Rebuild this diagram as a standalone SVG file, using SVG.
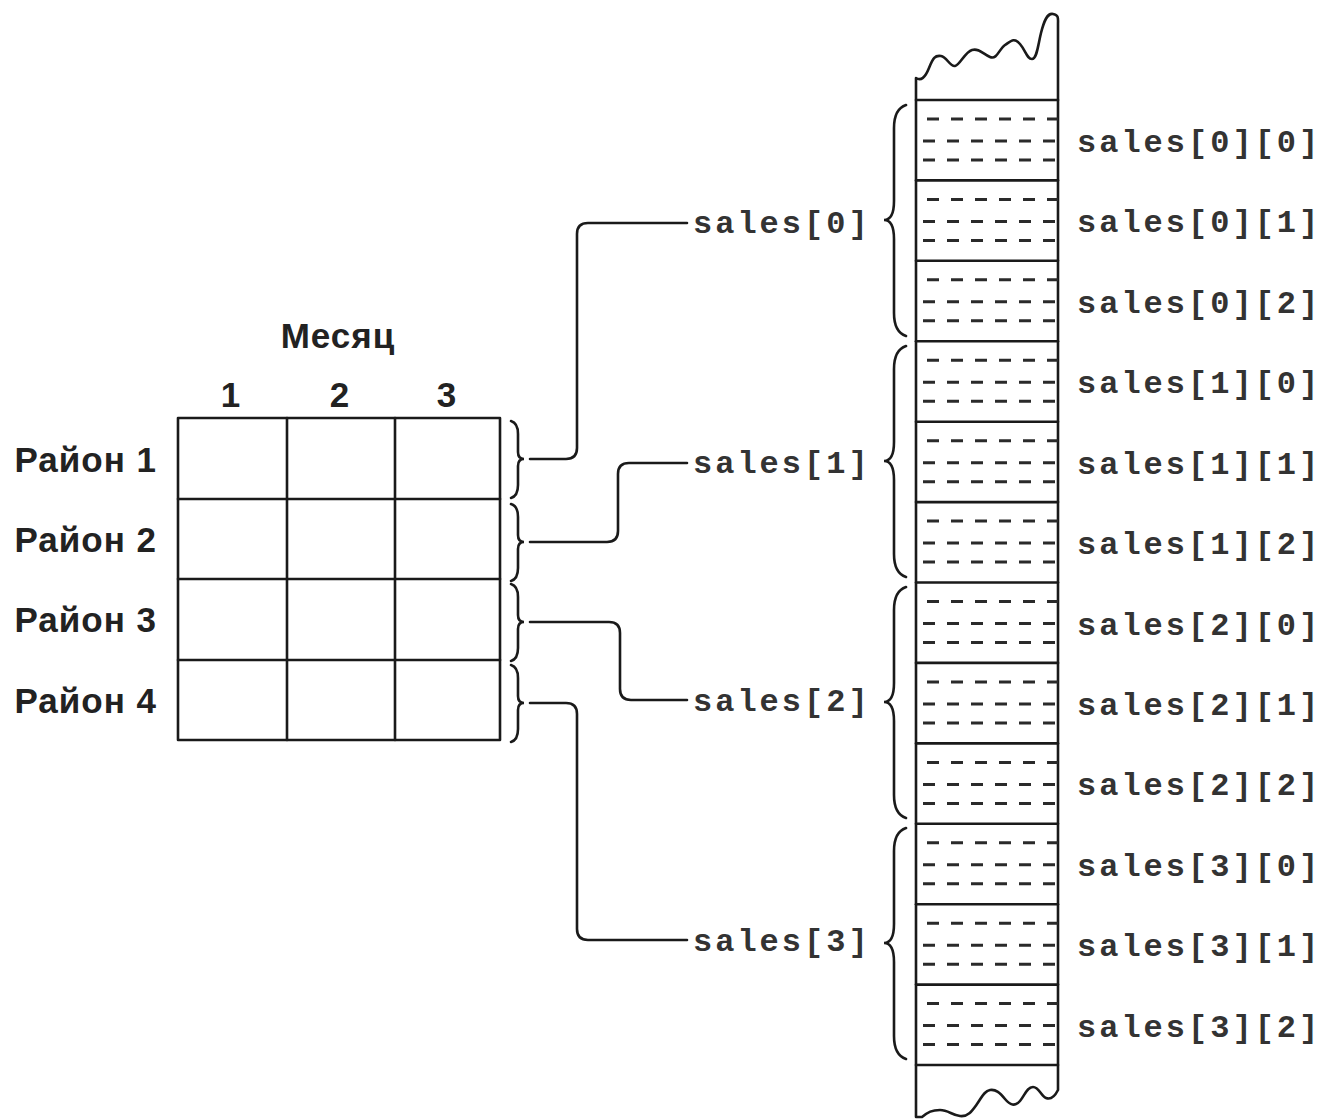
<svg xmlns="http://www.w3.org/2000/svg" width="1329" height="1120" viewBox="0 0 1329 1120">
<defs>
<style>
.ln{fill:none;stroke:#1a1a1a;stroke-width:2.6;stroke-linecap:round;stroke-linejoin:round}
.br{fill:none;stroke:#1a1a1a;stroke-width:2.6;stroke-linecap:round}
.ds{fill:none;stroke:#2a2a2a;stroke-width:3;stroke-dasharray:12 12}
.sans{font-family:"Liberation Sans",Arial,sans-serif;font-weight:bold;font-size:35px;letter-spacing:1px;fill:#222}
.mono{font-family:"Liberation Mono","Courier New",monospace;font-weight:bold;font-size:32px;letter-spacing:3px;fill:#333}
</style>
<g id="cellDashes">
<line class="ds" x1="927" y1="0" x2="1058" y2="0"/>
<line class="ds" x1="917" y1="22" x2="1058" y2="22" stroke-dashoffset="-6"/>
<line class="ds" x1="917" y1="41" x2="1058" y2="41" stroke-dashoffset="-6"/>
</g>
<path id="bigBrace" class="br" d="M906,5 Q894,9 894,28 V101 Q894,120 884,120 Q894,120 894,139 V213 Q894,232 906,236"/>
<path id="smallBrace" class="br" d="M511,2 Q518,4 518,15 V33 Q518,40 524,40 Q518,40 518,47 V66 Q518,77 511,79"/>
</defs>
<rect width="1329" height="1120" fill="#ffffff"/>

<g id="matrix">
<rect class="ln" x="178" y="418" width="322" height="322"/>
<line class="ln" x1="287" y1="418" x2="287" y2="740"/>
<line class="ln" x1="395" y1="418" x2="395" y2="740"/>
<line class="ln" x1="178" y1="499" x2="500" y2="499"/>
<line class="ln" x1="178" y1="579" x2="500" y2="579"/>
<line class="ln" x1="178" y1="660" x2="500" y2="660"/>
<text class="sans" x="338" y="348" text-anchor="middle">Месяц</text>
<text class="sans" x="231" y="407" text-anchor="middle">1</text>
<text class="sans" x="340" y="407" text-anchor="middle">2</text>
<text class="sans" x="447" y="407" text-anchor="middle">3</text>
</g>
<g id="row-labels">
<text class="sans" x="157" y="472" text-anchor="end">Район 1</text>
<text class="sans" x="157" y="552" text-anchor="end">Район 2</text>
<text class="sans" x="157" y="632" text-anchor="end">Район 3</text>
<text class="sans" x="157" y="713" text-anchor="end">Район 4</text>
</g>
<g id="row-braces">
<use href="#smallBrace" y="419"/>
<use href="#smallBrace" y="502"/>
<use href="#smallBrace" y="582"/>
<use href="#smallBrace" y="663"/>
</g>

<g id="connectors">
<path class="ln" d="M530,459 H566 Q577,459 577,448 V234 Q577,223 588,223 H687"/>
<path class="ln" d="M530,542 H607 Q618,542 618,531 V474 Q618,463 629,463 H687"/>
<path class="ln" d="M530,622 H609 Q620,622 620,633 V689 Q620,700 631,700 H687"/>
<path class="ln" d="M530,703 H566 Q577,703 577,714 V929 Q577,940 588,940 H687"/>
</g>

<g id="row-pointers">
<text class="mono" x="693" y="233">sales[0]</text>
<text class="mono" x="693" y="473">sales[1]</text>
<text class="mono" x="693" y="711">sales[2]</text>
<text class="mono" x="693" y="951">sales[3]</text>
</g>

<g id="group-braces">
<use href="#bigBrace" y="100"/>
<use href="#bigBrace" y="341"/>
<use href="#bigBrace" y="582"/>
<use href="#bigBrace" y="823"/>
</g>

<g id="memory">
<path class="ln" d="M916,1117 V78 C921,81 925,78 929,68 S935,55 941,56 S950,67 955,66 S965,52 972,50 S983,54 990,57 S999,49 1005,45 S1014,37 1020,44 S1027,59 1032,59 S1038,45 1041,33 S1047,13 1053,14 S1058,19 1058,24 V1090 C1055,1096 1051,1100 1046,1098 S1039,1087 1033,1087 S1025,1095 1020,1101 S1010,1105 1005,1099 S996,1089 990,1090 S982,1097 977,1104 S968,1117 960,1116 S948,1110 940,1110 S928,1112 922,1117 H916"/>
<line class="ln" x1="916" y1="100" x2="1058" y2="100"/>
<line class="ln" x1="916" y1="180.4" x2="1058" y2="180.4"/>
<line class="ln" x1="916" y1="260.8" x2="1058" y2="260.8"/>
<line class="ln" x1="916" y1="341.3" x2="1058" y2="341.3"/>
<line class="ln" x1="916" y1="421.7" x2="1058" y2="421.7"/>
<line class="ln" x1="916" y1="502.1" x2="1058" y2="502.1"/>
<line class="ln" x1="916" y1="582.5" x2="1058" y2="582.5"/>
<line class="ln" x1="916" y1="662.9" x2="1058" y2="662.9"/>
<line class="ln" x1="916" y1="743.4" x2="1058" y2="743.4"/>
<line class="ln" x1="916" y1="823.8" x2="1058" y2="823.8"/>
<line class="ln" x1="916" y1="904.2" x2="1058" y2="904.2"/>
<line class="ln" x1="916" y1="984.6" x2="1058" y2="984.6"/>
<line class="ln" x1="916" y1="1065" x2="1058" y2="1065"/>
<use href="#cellDashes" y="119"/>
<use href="#cellDashes" y="199.4"/>
<use href="#cellDashes" y="279.8"/>
<use href="#cellDashes" y="360.3"/>
<use href="#cellDashes" y="440.7"/>
<use href="#cellDashes" y="521.1"/>
<use href="#cellDashes" y="601.5"/>
<use href="#cellDashes" y="681.9"/>
<use href="#cellDashes" y="762.4"/>
<use href="#cellDashes" y="842.8"/>
<use href="#cellDashes" y="923.2"/>
<use href="#cellDashes" y="1003.6"/>
</g>

<g id="element-labels">
<text class="mono" x="1077" y="152">sales[0][0]</text>
<text class="mono" x="1077" y="232.4">sales[0][1]</text>
<text class="mono" x="1077" y="312.8">sales[0][2]</text>
<text class="mono" x="1077" y="393.3">sales[1][0]</text>
<text class="mono" x="1077" y="473.7">sales[1][1]</text>
<text class="mono" x="1077" y="554.1">sales[1][2]</text>
<text class="mono" x="1077" y="634.5">sales[2][0]</text>
<text class="mono" x="1077" y="714.9">sales[2][1]</text>
<text class="mono" x="1077" y="795.4">sales[2][2]</text>
<text class="mono" x="1077" y="875.8">sales[3][0]</text>
<text class="mono" x="1077" y="956.2">sales[3][1]</text>
<text class="mono" x="1077" y="1036.6">sales[3][2]</text>
</g>
</svg>
